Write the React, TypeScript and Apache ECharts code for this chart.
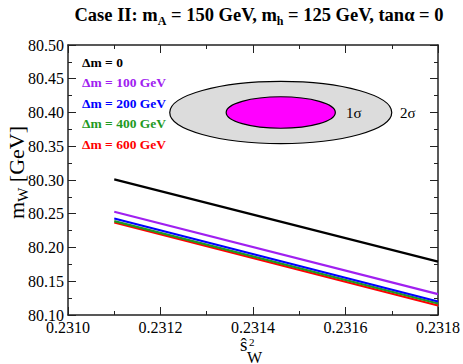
import React, { useEffect, useRef } from "react";
import * as echarts from "echarts";

const xStart = [0.2311, 0.2318];
const seriesNames = ["Δm = 0", "Δm = 100 GeV", "Δm = 200 GeV", "Δm = 400 GeV", "Δm = 600 GeV"];
const seriesColors = ["#000000", "#a020f0", "#0000ff", "#1f9a1f", "#ff0000"];
const startValues = [80.301, 80.253, 80.243, 80.239, 80.237];
const endValues = [80.179, 80.131, 80.120, 80.117, 80.114];
// ellipses: [cx, cy, rx, ry]
const ellipse2s = [0.23146, 80.40, 0.00024, 0.046];
const ellipse1s = [0.23146, 80.40, 0.000118, 0.0233];

const FONT = "'Liberation Serif', serif";

export default function App() {
  const ref = useRef<HTMLDivElement>(null);
  useEffect(() => {
    const chart = echarts.init(ref.current!, null, { renderer: "svg" });
    const axisCommon = {
      axisLine: { show: true, lineStyle: { color: "#222", width: 1.5 } },
      axisTick: { show: true, inside: true, length: 8, lineStyle: { color: "#222", width: 1 } },
      minorTick: { show: true, splitNumber: 2, length: 4, lineStyle: { color: "#222", width: 1 } },
      splitLine: { show: false },
    };
    const ellipseSeries = (d: number[], fill: string, z: number) => ({
      type: "custom",
      z,
      silent: true,
      data: [d],
      renderItem: (params: any, api: any) => {
        const c = api.coord([api.value(0), api.value(1)]);
        const s = api.size([api.value(2), api.value(3)]);
        return {
          type: "ellipse",
          shape: { cx: c[0], cy: c[1], rx: s[0], ry: s[1] },
          style: { fill, stroke: "#000", lineWidth: 1.2 },
        };
      },
    });
    chart.setOption({
      animation: false,
      grid: { left: 68, right: 23, top: 45, bottom: 49 },
      title: {
        text: "{b|Case II: m}{s|A}{b| = 150 GeV, m}{s|h}{b| = 125 GeV, tanα = 0}",
        left: 254,
        top: 0,
        textAlign: "center",
        textStyle: {
          rich: {
            b: { fontFamily: FONT, fontWeight: "bold", fontSize: 18.5, color: "#000", verticalAlign: "top", lineHeight: 21 },
            s: { fontFamily: FONT, fontWeight: "bold", fontSize: 12, color: "#000", padding: [11, 0, 0, 0], lineHeight: 21 },
          },
        },
      },
      xAxis: [
        {
          type: "value",
          min: 0.2310,
          max: 0.2318,
          interval: 0.0002,
          ...axisCommon,
          axisLabel: {
            formatter: (v: number) => v.toFixed(4),
            fontFamily: FONT,
            fontSize: 16,
            color: "#000",
            margin: 4,
          },
        },
        {
          type: "value",
          position: "top",
          min: 0.2310,
          max: 0.2318,
          interval: 0.0002,
          ...axisCommon,
          axisLabel: { show: false },
        },
      ],
      yAxis: [
        {
          type: "value",
          min: 80.1,
          max: 80.5,
          interval: 0.05,
          ...axisCommon,
          axisLabel: {
            formatter: (v: number) => v.toFixed(2),
            fontFamily: FONT,
            fontSize: 16,
            color: "#000",
            margin: 4,
          },
        },
        {
          type: "value",
          position: "right",
          min: 80.1,
          max: 80.5,
          interval: 0.05,
          ...axisCommon,
          axisLabel: { show: false },
        },
      ],
      series: [
        ellipseSeries(ellipse2s, "#dcdcdc", 1),
        ellipseSeries(ellipse1s, "#ff00ff", 2),
        ...seriesNames.map((n, i) => ({
          type: "line",
          name: n,
          z: 3 + (seriesNames.length - i),
          showSymbol: false,
          lineStyle: { color: seriesColors[i], width: 2.2 },
          data: [
            [xStart[0], startValues[i]],
            [xStart[1], endValues[i]],
          ],
        })),
      ],
      graphic: [
        ...seriesNames.map((n, i) => ({
          type: "text",
          x: 82,
          y: 62 + i * 20.5,
          z: 100,
          style: {
            text: n,
            fill: seriesColors[i],
            fontFamily: FONT,
            fontWeight: "bold",
            fontSize: 13.5,
            verticalAlign: "middle",
          },
        })),
        { type: "text", x: 346, y: 113, z: 100, style: { text: "1σ", fill: "#000", fontFamily: FONT, fontSize: 15, verticalAlign: "middle" } },
        { type: "text", x: 400, y: 113, z: 100, style: { text: "2σ", fill: "#000", fontFamily: FONT, fontSize: 15, verticalAlign: "middle" } },
        {
          type: "text",
          left: 3,
          top: 126,
          z: 100,
          rotation: Math.PI / 2,
          style: {
            text: "{m|m}{s|W}{m| [GeV]}",
            rich: {
              m: { fontFamily: FONT, fontSize: 22, fill: "#000", color: "#000", lineHeight: 25 },
              s: { fontFamily: FONT, fontSize: 15, fill: "#000", color: "#000", padding: [12, 0, 0, 0], lineHeight: 25 },
            },
          },
        },
        { type: "text", x: 240, y: 344.5, z: 100, style: { text: "ŝ", fill: "#000", fontFamily: FONT, fontSize: 19, verticalAlign: "middle" } },
        { type: "text", x: 249, y: 342, z: 100, style: { text: "2", fill: "#000", fontFamily: FONT, fontSize: 11, verticalAlign: "middle" } },
        { type: "text", x: 247, y: 357, z: 100, style: { text: "W", fill: "#000", fontFamily: FONT, fontSize: 16, verticalAlign: "middle" } },
      ],
    });
    return () => chart.dispose();
  }, []);
  return <div ref={ref} style={{ width: 463, height: 364, position: "absolute", left: 0, top: 0 }} />;
}
